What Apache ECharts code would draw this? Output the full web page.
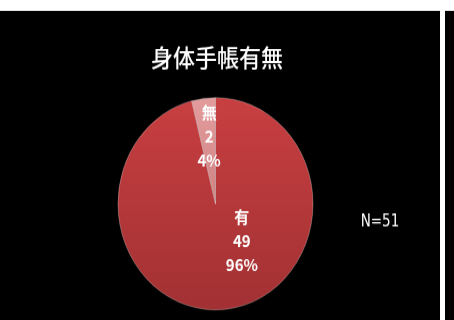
<!DOCTYPE html>
<html>
<head>
<meta charset="utf-8">
<script src="https://cdn.jsdelivr.net/npm/echarts@6/dist/echarts.min.js"></script>
<style>
  html, body { margin: 0; padding: 0; background: #ffffff; overflow: hidden; }
  #wrap { width: 454px; height: 320px; overflow: hidden; }
  #chart { width: 454px; height: 294px; transform: scaleY(1.0884); transform-origin: 0 0; }
</style>
</head>
<body>
<div id="wrap"><div id="chart"></div></div>
<script>
// 身体手帳の有無
const categories = ['有', '無'];
const counts = [49, 2];
const titleText = '身体手帳有無';
const noteText = 'N=51';

const sliceColors = [
  { top: '#c83f41', bottom: '#a23133' },
  { top: '#e39c9c', bottom: '#cf8383' }
];
const labelShift = [[20, -17], [0, -10.5]];

const chart = echarts.init(document.getElementById('chart'), null, { renderer: 'canvas' });

const cjk = '"Noto Sans CJK JP", "Noto Sans", sans-serif';

chart.setOption({
  backgroundColor: 'transparent',
  animation: false,
  graphic: [
    { type: 'rect', z: -10, shape: { x: 0, y: 10.1, width: 440, height: 300 }, style: { fill: '#000000' } },
    { type: 'rect', z: -10, shape: { x: 445, y: 10.1, width: 9, height: 300 }, style: { fill: '#000000' } }
  ],
  title: [
    {
      text: titleText,
      left: 212,
      top: 37,
      textAlign: 'center',
      textStyle: { color: '#ffffff', fontFamily: cjk, fontSize: 22, fontWeight: 500 }
    },
    {
      text: noteText,
      left: 375,
      top: 192,
      textAlign: 'center',
      textStyle: { color: '#ffffff', fontFamily: '"Liberation Sans Narrow", "DejaVu Sans Condensed", sans-serif', fontSize: 15, fontWeight: 'normal' }
    }
  ],
  series: [{
    type: 'pie',
    center: [215.5, 187.2],
    radius: 97.5,
    startAngle: 90,
    clockwise: true,
    percentPrecision: 0,
    avoidLabelOverlap: false,
    itemStyle: { borderColor: 'rgba(255,255,255,0.35)', borderWidth: 0.8 },
    label: {
      show: true,
      position: 'inside',
      formatter: '{b}\n{c}\n{d}%',
      color: '#ffffff',
      fontFamily: cjk,
      fontSize: 15,
      fontWeight: 'bold',
      lineHeight: 22
    },
    labelLine: { show: false },
    labelLayout: function (p) {
      const s = labelShift[p.dataIndex];
      return { dx: s[0], dy: s[1] };
    },
    emphasis: { disabled: true },
    data: categories.map(function (name, i) {
      return {
        name: name,
        value: counts[i],
        itemStyle: {
          color: new echarts.graphic.LinearGradient(0, 0, 0, 1, [
            { offset: 0, color: sliceColors[i].top },
            { offset: 1, color: sliceColors[i].bottom }
          ])
        }
      };
    })
  }]
});
</script>
</body>
</html>
